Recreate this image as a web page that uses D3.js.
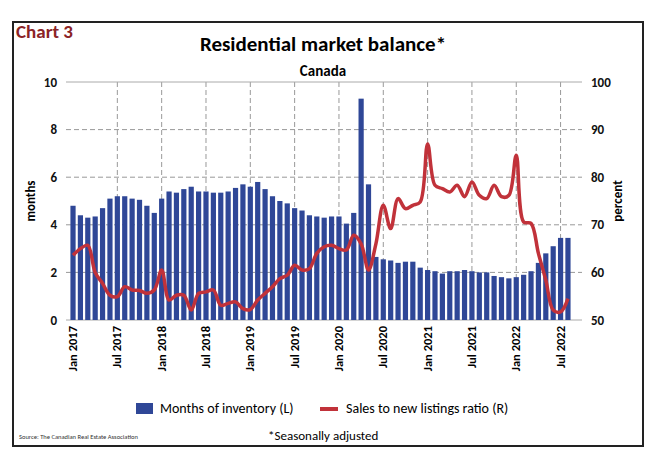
<!DOCTYPE html>
<html>
<head>
<meta charset="utf-8">
<script src="https://cdn.jsdelivr.net/npm/d3@7"></script>
<style>
  body { margin: 0; background: #fff; }
  text { font-family: Carlito, "Liberation Sans", "Open Sans", sans-serif; }
</style>
</head>
<body>
<svg id="chart" width="660" height="461"></svg>
<script>
  // months of inventory (L), Jan 2017 - Aug 2022
  var inventory = [
    4.8,4.4,4.3,4.35,4.7,5.1,5.2,5.2,5.1,5.05,4.8,4.5,
    5.1,5.4,5.35,5.5,5.6,5.4,5.4,5.35,5.35,5.4,5.55,5.7,
    5.6,5.8,5.5,5.2,5.0,4.9,4.7,4.6,4.4,4.35,4.3,4.35,
    4.35,4.05,4.5,9.3,5.7,2.65,2.55,2.5,2.4,2.45,2.45,2.2,
    2.1,2.05,1.95,2.05,2.05,2.1,2.05,2.0,2.0,1.85,1.8,1.75,
    1.8,1.9,2.05,2.4,2.8,3.1,3.45,3.45
  ];
  // sales to new listings ratio (R)
  var snlr = [
    63.6,65,65.7,60,57.7,55.2,54.9,57,56.3,56.2,55.6,56.3,
    60.5,54.2,55.2,55.2,52.1,55.6,55.9,56.3,53.1,53.5,53.8,52.4,
    52.2,54.2,55.6,57,58.7,59.4,61.5,60.5,60.8,64,65.4,65.7,
    65,64.7,67.8,66,60.5,66,74.1,69.2,75.5,73.4,74.1,74.8,
    87,78.3,77.6,76.9,78.3,75.9,79,76.2,75.5,78.3,75.9,76.2,
    84.6,70.6,70.3,64,58.4,52.1,51.7,54.5
  ];
  var monthNames = ["Jan","Feb","Mar","Apr","May","Jun","Jul","Aug","Sep","Oct","Nov","Dec"];
  var data = inventory.map(function(v, i) {
    return {i: i, label: monthNames[i % 12] + " " + (2017 + Math.floor(i / 12)), inv: v, ratio: snlr[i]};
  });

  var svg = d3.select("#chart");
  var pLeft = 66, pRight = 582, pTop = 82, pBottom = 320;

  var x = d3.scaleLinear().domain([-0.95, 68.9]).range([pLeft, pRight]);
  var yL = d3.scaleLinear().domain([0, 10]).range([pBottom, pTop]);
  var yR = d3.scaleLinear().domain([50, 100]).range([pBottom, pTop]);

  // frame
  svg.append("rect").attr("x", 13).attr("y", 22).attr("width", 630).attr("height", 424)
    .attr("fill", "none").attr("stroke", "#222").attr("stroke-width", 2);

  svg.append("text").attr("x", 16).attr("y", 38).text("Chart 3")
    .attr("fill", "#8b2326").attr("font-size", 19).attr("font-weight", "bold");
  svg.append("text").attr("x", 323).attr("y", 51).attr("text-anchor", "middle")
    .text("Residential market balance*").attr("font-size", 21).attr("font-weight", "bold");
  svg.append("text").attr("x", 323).attr("y", 76).attr("text-anchor", "middle")
    .text("Canada").attr("font-size", 15).attr("font-weight", "bold");

  // gridlines
  var ticksX = data.filter(function(d) { return d.i % 6 == 0; });
  svg.append("g").selectAll("line").data([2,4,6,8]).enter().append("line")
    .attr("x1", pLeft).attr("x2", pRight).attr("y1", yL).attr("y2", yL)
    .attr("stroke", "#999").attr("stroke-dasharray", "5,3");
  svg.append("g").selectAll("line").data(ticksX.slice(1)).enter().append("line")
    .attr("x1", function(d) { return x(d.i); }).attr("x2", function(d) { return x(d.i); })
    .attr("y1", pTop).attr("y2", pBottom)
    .attr("stroke", "#999").attr("stroke-dasharray", "5,3");
  svg.append("line").attr("x1", pLeft).attr("x2", pRight).attr("y1", pTop).attr("y2", pTop).attr("stroke", "#aaa");
  svg.append("line").attr("x1", pLeft).attr("x2", pRight).attr("y1", pBottom).attr("y2", pBottom).attr("stroke", "#aaa");

  // bars
  svg.append("g").selectAll("rect").data(data).enter().append("rect")
    .attr("x", function(d) { return x(d.i) - 2.6; })
    .attr("width", 5.2)
    .attr("y", function(d) { return yL(d.inv); })
    .attr("height", function(d) { return pBottom - yL(d.inv); })
    .attr("fill", "#2f4797");

  // line
  var line = d3.line().x(function(d) { return x(d.i); }).y(function(d) { return yR(d.ratio); })
    .curve(d3.curveCatmullRom);
  svg.append("path").datum(data).attr("d", line)
    .attr("fill", "none").attr("stroke", "#c1323a").attr("stroke-width", 3.5);

  // axes
  var axL = svg.append("g").attr("transform", "translate(" + pLeft + ",0)")
    .call(d3.axisLeft(yL).tickValues([0,2,4,6,8,10]).tickSize(0).tickPadding(9));
  var axR = svg.append("g").attr("transform", "translate(" + pRight + ",0)")
    .call(d3.axisRight(yR).tickValues([50,60,70,80,90,100]).tickSize(0).tickPadding(9));
  [axL, axR].forEach(function(a) {
    a.select(".domain").remove();
    a.selectAll("text").attr("font-size", 13).attr("font-weight", "bold").attr("fill", "#111")
      .style("font-family", "Carlito, 'Liberation Sans', sans-serif");
  });

  svg.append("g").selectAll("text").data(ticksX).enter().append("text")
    .attr("transform", function(d) { return "translate(" + (x(d.i) + 4) + "," + (pBottom + 6) + ") rotate(-90)"; })
    .attr("text-anchor", "end").attr("font-size", 12.5).attr("font-weight", "bold")
    .text(function(d) { return d.label; });

  svg.append("text").attr("transform", "translate(35,201) rotate(-90)").attr("text-anchor", "middle")
    .text("months").attr("font-size", 13).attr("font-weight", "bold");
  svg.append("text").attr("transform", "translate(622,201) rotate(-90)").attr("text-anchor", "middle")
    .text("percent").attr("font-size", 13).attr("font-weight", "bold");

  // legend
  svg.append("rect").attr("x", 136).attr("y", 403).attr("width", 17).attr("height", 11)
    .attr("fill", "#2f4797");
  svg.append("text").attr("x", 160).attr("y", 413).text("Months of inventory (L)").attr("font-size", 14);
  svg.append("line").attr("x1", 320).attr("x2", 338).attr("y1", 409).attr("y2", 409)
    .attr("stroke", "#c1323a").attr("stroke-width", 4);
  svg.append("text").attr("x", 346).attr("y", 413).text("Sales to new listings ratio (R)").attr("font-size", 14);

  svg.append("text").attr("x", 19).attr("y", 439).text("Source: The Canadian Real Estate Association")
    .attr("font-size", 6.5).attr("fill", "#333");
  svg.append("text").attr("x", 268).attr("y", 440).text("*Seasonally adjusted").attr("font-size", 13);
</script>
</body>
</html>
